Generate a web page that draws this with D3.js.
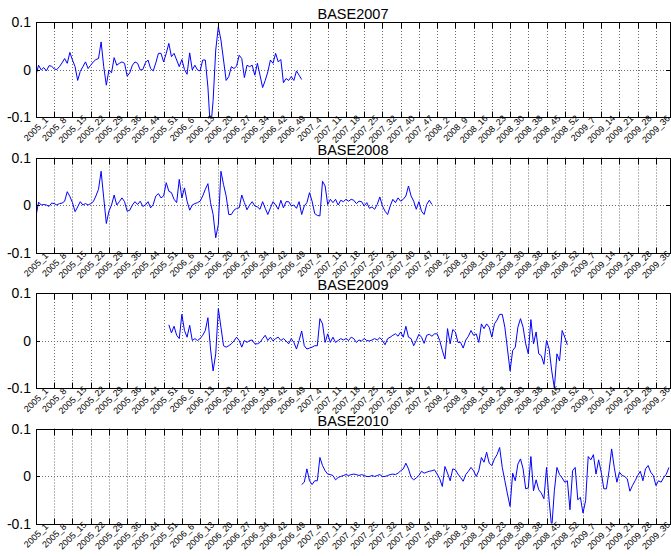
<!DOCTYPE html>
<html>
<head>
<meta charset="utf-8">
<script src="https://cdn.jsdelivr.net/npm/d3@7.9.0/dist/d3.min.js"></script>
<style>
  body { margin: 0; background: #fff; }
  svg { display: block; font-family: "Liberation Sans", Arial, Helvetica, sans-serif; }
</style>
</head>
<body>
<svg id="chart" width="671" height="556"></svg>
<script>
// Week labels shown under every panel (one tick every 7 weeks)
const weekLabels = [
  '2005_1', '2005_8', '2005_15', '2005_22', '2005_29', '2005_36', '2005_44', '2005_51',
  '2006_6', '2006_13', '2006_20', '2006_27', '2006_34', '2006_42', '2006_49',
  '2007_4', '2007_11', '2007_18', '2007_25', '2007_32', '2007_40', '2007_47',
  '2008_2', '2008_9', '2008_16', '2008_23', '2008_30', '2008_38', '2008_45', '2008_52',
  '2009_7', '2009_14', '2009_21', '2009_28', '2009_36'
];

const yTicks = [-0.1, 0, 0.1];

const seriesNames = ['BASE2007', 'BASE2008', 'BASE2009', 'BASE2010'];
// week index (1-based) where each series begins
const seriesStart = [1, 1, 52, 103];

const base2007 = [
  -0.012, 0.009, -0.001, 0.004, -0.003, 0.008, 0.007, 0.001, 0.000, 0.006,
  0.014, 0.023, 0.013, 0.036, 0.020, 0.006, -0.023, -0.004, 0.006, 0.016,
  0.002, 0.009, 0.016, 0.021, 0.023, 0.058, 0.006, -0.033, -0.001, -0.007,
  0.025, 0.009, 0.013, 0.016, 0.013, -0.014, -0.007, 0.009, 0.016, 0.013,
  -0.001, 0.000, 0.014, 0.020, 0.002, -0.003, 0.014, 0.034, 0.034, 0.016,
  0.034, 0.055, 0.027, 0.034, 0.020, 0.006, 0.021, 0.000, -0.010, 0.035,
  -0.001, 0.009, -0.001, -0.003, 0.020, 0.020, -0.037, -0.130, -0.065, 0.041,
  0.090, 0.062, 0.020, -0.023, -0.015, 0.006, 0.002, 0.007, 0.030, 0.023,
  -0.017, 0.009, 0.006, 0.009, -0.012, 0.013, -0.012, -0.038, -0.023, -0.005,
  0.020, 0.013, 0.034, 0.016, 0.021, -0.028, -0.019, -0.023, -0.015, -0.023,
  -0.003, -0.012, -0.021
];

const base2008 = [
  -0.023, 0.006, 0.000, 0.001, 0.000, -0.003, 0.004, 0.003, 0.000, 0.003,
  0.004, 0.008, 0.028, 0.018, 0.005, -0.014, -0.004, 0.007, 0.000, 0.003,
  0.000, 0.003, 0.007, 0.019, 0.033, 0.071, 0.015, -0.039, -0.013, 0.000,
  0.021, 0.000, 0.007, 0.015, 0.007, -0.013, -0.011, 0.000, 0.007, 0.001,
  0.008, -0.003, 0.000, 0.007, -0.006, 0.001, 0.019, 0.024, 0.015, 0.019,
  0.047, 0.029, 0.026, 0.012, 0.005, 0.054, 0.015, 0.036, 0.008, -0.011,
  0.000, 0.003, 0.005, 0.008, 0.019, 0.033, 0.045, 0.005, -0.020, -0.069,
  -0.041, 0.071, 0.043, 0.019, -0.020, -0.020, -0.011, -0.007, -0.006, 0.021,
  0.005, -0.010, 0.000, 0.007, -0.002, -0.004, -0.009, 0.007, -0.007, -0.020,
  -0.006, 0.007, 0.000, -0.009, 0.010, -0.006, 0.007, 0.007, -0.002, 0.000,
  -0.007, 0.007, -0.020, -0.002, 0.005, 0.026, 0.008, -0.018, -0.022, -0.023,
  0.050, 0.040, 0.001, 0.012, 0.005, 0.012, 0.000, 0.010, 0.007, 0.012,
  0.008, 0.012, 0.010, 0.003, 0.008, 0.007, -0.002, 0.005, -0.007, -0.004,
  -0.009, 0.001, 0.017, -0.002, -0.013, -0.020, -0.002, 0.012, 0.005, 0.015,
  0.008, 0.012, 0.019, 0.040, 0.019, 0.008, -0.009, 0.007, -0.013, -0.020,
  0.001, 0.010, 0.001
];

const base2009 = [
  0.033, 0.016, 0.030, 0.011, 0.004, 0.055, 0.021, 0.007, 0.032, 0.000,
  0.004, 0.000, 0.004, 0.011, 0.021, 0.048, -0.018, -0.064, -0.028, 0.067,
  0.028, -0.011, -0.014, -0.011, -0.007, -0.001, 0.007, 0.000, -0.014, 0.000,
  -0.004, 0.000, 0.001, -0.007, -0.007, -0.004, 0.004, 0.011, 0.000, 0.007,
  -0.001, 0.004, 0.007, 0.000, 0.004, -0.001, -0.007, 0.004, -0.004, -0.018,
  0.000, 0.020, -0.011, -0.018, -0.016, -0.014, -0.011, -0.011, 0.046, 0.035,
  -0.004, 0.014, -0.004, 0.007, -0.004, 0.000, 0.004, 0.001, 0.004, 0.000,
  0.007, 0.004, -0.004, 0.001, -0.001, 0.004, 0.000, -0.001, 0.001, 0.004,
  0.001, 0.006, 0.000, -0.009, 0.004, 0.007, 0.011, 0.014, 0.009, 0.018,
  0.007, 0.030, 0.007,
  0.004, -0.011, 0.000, 0.013, 0.007, -0.006, 0.011, 0.013, 0.009, 0.014,
  0.014, 0.000, -0.021, -0.039, 0.025, -0.007, 0.023, 0.018, -0.004, -0.004,
  -0.016, 0.001, 0.009, 0.021, 0.011, 0.014, -0.004, 0.035, 0.025, 0.035,
  0.028, 0.007, 0.035, 0.043, 0.055, 0.055, 0.028, -0.018, -0.064, -0.021,
  -0.014, 0.028, 0.046, 0.028, -0.007, -0.028, 0.044, -0.007, 0.018, -0.028,
  -0.032, -0.050, 0.000, -0.018, -0.064, -0.100, -0.028, -0.043, 0.021, 0.007,
  -0.009
];

const base2010 = [
  -0.018, -0.013, 0.015, -0.010, -0.018, -0.010, -0.010, 0.039, 0.022, 0.011,
  0.004,
  0.003, 0.001, -0.008, -0.003, -0.001, 0.001, 0.003, 0.001, 0.003, 0.004,
  0.003, 0.001, 0.003, 0.001, -0.001, -0.001, 0.001, -0.001, 0.001, 0.003,
  -0.001, -0.001, 0.001, 0.003, 0.004, 0.003, 0.006, 0.011, 0.015, 0.027,
  0.015, -0.003, -0.008, -0.004, 0.001, 0.010, 0.006, 0.008, 0.010, 0.011,
  0.013, 0.004, -0.006, -0.022, 0.020, 0.006, -0.010, 0.015, 0.013, 0.004,
  -0.003, -0.011, 0.003, 0.010, 0.018, 0.011, -0.001, 0.011, 0.039, 0.029,
  0.050, 0.027, 0.022, 0.036, 0.045, 0.060, 0.018, -0.010, -0.038, -0.064,
  0.006, -0.010, 0.025, 0.036, 0.015, -0.027, -0.025, 0.041, -0.031, -0.008,
  -0.029, -0.036, -0.048, 0.018, -0.052, -0.110, -0.031, 0.018, 0.003, -0.004,
  -0.013, -0.010, -0.071, 0.011, 0.018, -0.050, -0.045, -0.078, -0.052, 0.041,
  0.034, 0.045, 0.004, 0.034, 0.008, -0.027, -0.027, 0.011, 0.057, 0.018,
  -0.013, 0.008, 0.001, -0.001, -0.006, -0.032, -0.020, -0.010, 0.001, 0.010,
  -0.010, 0.015, 0.022, 0.008, 0.001, -0.020, -0.010, -0.013, -0.003, 0.004,
  0.018
];

const seriesValues = [base2007, base2008, base2009, base2010];

// ---- layout ----
const left = 36, right = 670;
const firstTop = 22, panelStep = 135.5, panelHeight = 95;
const snap = v => Math.round(v) + 0.5;

const svg = d3.select('#chart');

const x = d3.scaleLinear().domain([1, 244.4]).range([left, right]);
const tickWeeks = weekLabels.map((d, i) => 1 + 7 * i);

seriesNames.forEach((name, k) => {
  const top = firstTop + k * panelStep;
  const bottom = top + panelHeight;
  const y = d3.scaleLinear().domain([-0.1, 0.1]).range([bottom, top]);
  const g = svg.append('g');

  // clip region for the data line
  const clipId = 'clip' + k;
  svg.append('clipPath').attr('id', clipId)
    .append('rect')
    .attr('x', left).attr('y', top)
    .attr('width', right - left).attr('height', panelHeight);

  // dotted grid: vertical at each tick, horizontal at zero
  g.selectAll('.vgrid')
    .data(tickWeeks.slice(1))
    .join('line')
    .attr('x1', d => snap(x(d))).attr('x2', d => snap(x(d)))
    .attr('y1', top).attr('y2', bottom)
    .attr('stroke', '#6e6e6e')
    .attr('stroke-width', 1)
    .attr('stroke-dasharray', '1,2');

  g.append('line')
    .attr('x1', left).attr('x2', right)
    .attr('y1', snap(y(0))).attr('y2', snap(y(0)))
    .attr('stroke', '#6e6e6e')
    .attr('stroke-dasharray', '1,2');

  // data line
  const values = seriesValues[k];
  const start = seriesStart[k];
  const line = d3.line()
    .x((d, i) => x(start + i))
    .y(d => y(d));

  g.append('path')
    .datum(values)
    .attr('clip-path', `url(#${clipId})`)
    .attr('fill', 'none')
    .attr('stroke', '#0000ff')
    .attr('stroke-width', 1)
    .attr('d', line);

  // box
  g.append('rect')
    .attr('x', snap(left)).attr('y', snap(top))
    .attr('width', Math.round(right - left)).attr('height', Math.round(panelHeight))
    .attr('fill', 'none')
    .attr('stroke', '#000')
    .attr('stroke-width', 1);

  // x tick marks, bottom and top
  g.selectAll('.xtickb')
    .data(tickWeeks)
    .join('line')
    .attr('x1', d => snap(x(d))).attr('x2', d => snap(x(d)))
    .attr('y1', snap(bottom)).attr('y2', snap(bottom) - 6)
    .attr('stroke', '#000');
  g.selectAll('.xtickt')
    .data(tickWeeks)
    .join('line')
    .attr('x1', d => snap(x(d))).attr('x2', d => snap(x(d)))
    .attr('y1', snap(top)).attr('y2', snap(top) + 6)
    .attr('stroke', '#000');

  // y tick marks, left and right
  g.selectAll('.ytick')
    .data(yTicks)
    .join('g')
    .each(function (d) {
      const yy = snap(y(d));
      d3.select(this).append('line')
        .attr('x1', left).attr('x2', left + 4)
        .attr('y1', yy).attr('y2', yy).attr('stroke', '#000');
      d3.select(this).append('line')
        .attr('x1', right).attr('x2', right - 4)
        .attr('y1', yy).attr('y2', yy).attr('stroke', '#000');
    });

  // y tick labels
  g.selectAll('.ylab')
    .data(yTicks)
    .join('text')
    .attr('x', left - 5)
    .attr('y', d => y(d))
    .attr('dy', '0.36em')
    .attr('text-anchor', 'end')
    .attr('font-size', 14)
    .attr('fill', '#000')
    .text(d => d === 0 ? '0' : d3.format('.1f')(d).replace('−', '-'));

  // rotated x tick labels, centred under each tick
  g.selectAll('.xlab')
    .data(weekLabels)
    .join('text')
    .attr('transform', (d, i) => `translate(${x(tickWeeks[i])},${bottom + 12}) rotate(-45)`)
    .attr('text-anchor', 'middle')
    .attr('dy', '0.35em')
    .attr('font-size', 9)
    .attr('fill', '#000')
    .text(d => d);

  // title
  g.append('text')
    .attr('x', (left + right) / 2)
    .attr('y', top - 3)
    .attr('text-anchor', 'middle')
    .attr('font-size', 14.5)
    .attr('fill', '#000')
    .text(name);
});
</script>
</body>
</html>
